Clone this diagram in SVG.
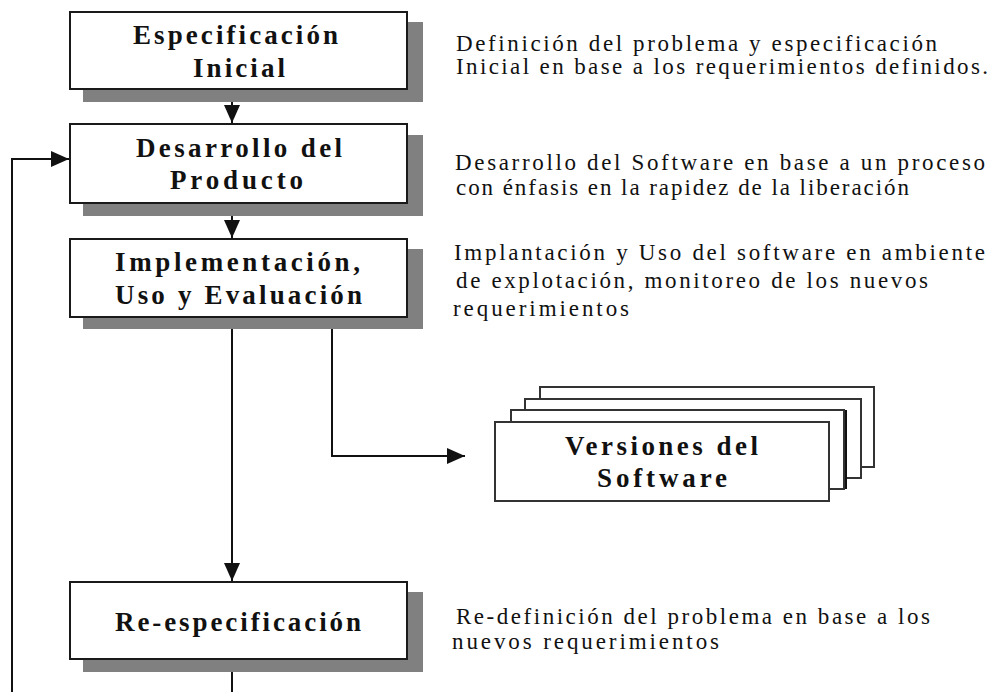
<svg xmlns="http://www.w3.org/2000/svg" width="993" height="692" viewBox="0 0 993 692">
<style>
.box{fill:#fff;stroke:#1a1a1a;stroke-width:2}
.shadow{fill:#808080}
.ver{fill:#fff;stroke:#333;stroke-width:2}
.title{font-family:"Liberation Serif","DejaVu Serif",serif;font-weight:bold;font-size:27px;fill:#111}
.desc{font-family:"Liberation Serif","DejaVu Serif",serif;font-size:23px;fill:#111}
.conn{fill:none;stroke:#111;stroke-width:2}
</style>
<defs>
<marker id="arr" markerUnits="userSpaceOnUse" markerWidth="18" markerHeight="16" refX="18" refY="8" orient="auto">
<path d="M0,0 L18,8 L0,16 z" fill="#111"/>
</marker>
</defs>
<rect width="993" height="692" fill="#fff"/>

<g id="connectors">
<path class="conn" d="M232,89 V123" marker-end="url(#arr)"/>
<path class="conn" d="M232,203 V238" marker-end="url(#arr)"/>
<path class="conn" d="M232,317 V581" marker-end="url(#arr)"/>
<path class="conn" d="M332,317 V456 H465" marker-end="url(#arr)"/>
<path class="conn" d="M12,692 V159 H69" marker-end="url(#arr)"/>
<path class="conn" d="M232,659 V692"/>
</g>

<g id="n1">
<rect class="shadow" x="83" y="22" width="340" height="80"/>
<rect class="box" x="70" y="12" width="337" height="77"/>
<text class="title" x="133" y="44" textLength="205">Especificación</text>
<text class="title" x="193" y="77" textLength="92">Inicial</text>
</g>
<g id="n2">
<rect class="shadow" x="83" y="135" width="340" height="81"/>
<rect class="box" x="70" y="124" width="337" height="79"/>
<text class="title" x="136" y="157" textLength="206">Desarrollo del</text>
<text class="title" x="170" y="189" textLength="133">Producto</text>
</g>
<g id="n3">
<rect class="shadow" x="83" y="249" width="340" height="80"/>
<rect class="box" x="70" y="239" width="337" height="78"/>
<text class="title" x="115" y="271" textLength="245">Implementación,</text>
<text class="title" x="115" y="304" textLength="247">Uso y Evaluación</text>
</g>
<g id="n4">
<rect class="shadow" x="83" y="592" width="340" height="80"/>
<rect class="box" x="70" y="582" width="337" height="77"/>
<text class="title" x="115" y="631" textLength="246">Re-especificación</text>
</g>
<g id="versiones">
<rect class="ver" x="540" y="387" width="334" height="80"/>
<rect class="ver" x="525" y="399" width="336" height="79"/>
<rect class="ver" x="511" y="410" width="333" height="79"/>
<line x1="846" y1="410" x2="846" y2="489" stroke="#111" stroke-width="2"/>
<rect class="ver" x="495" y="422" width="334" height="79"/>
<text class="title" x="565" y="455" textLength="193">Versiones del</text>
<text class="title" x="597" y="487" textLength="130">Software</text>
</g>

<g id="d1">
<text class="desc" x="456" y="51" textLength="481">Definición del problema y especificación</text>
<text class="desc" x="456" y="74" textLength="532">Inicial en base a los requerimientos definidos.</text>
</g>
<g id="d2">
<text class="desc" x="455" y="170" textLength="530">Desarrollo del Software en base a un proceso</text>
<text class="desc" x="456" y="195" textLength="453">con énfasis en la rapidez de la liberación</text>
</g>
<g id="d3">
<text class="desc" x="454" y="260" textLength="531">Implantación y Uso del software en ambiente</text>
<text class="desc" x="456" y="288" textLength="472">de explotación, monitoreo de los nuevos</text>
<text class="desc" x="453" y="316" textLength="176">requerimientos</text>
</g>
<g id="d4">
<text class="desc" x="456" y="624" textLength="474">Re-definición del problema en base a los</text>
<text class="desc" x="452" y="649" textLength="267">nuevos requerimientos</text>
</g>
</svg>
